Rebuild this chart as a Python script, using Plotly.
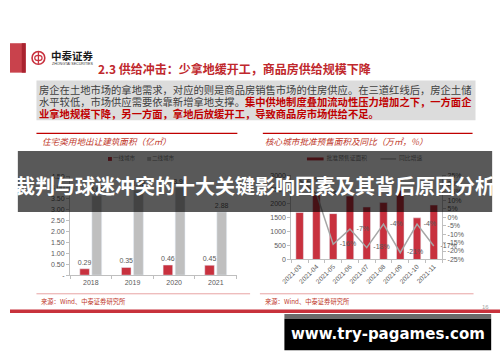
import plotly.graph_objects as go

W, H = 500, 362
def px(x): return x / W
def py(y): return 1 - y / H

# ---------------- data ----------------
years = ["2018", "2019", "2020", "2021"]
tier1_area = [0.29, 0.35, 0.46, 0.45]
tier2_area = [3.61, 3.88, 3.99, 2.88]
left_tickvals = [0, 0.5, 1.0, 1.5, 2.0, 2.5, 3.0, 3.5, 4.0, 4.5]
left_ticktext = ["-", "0.50", "1.00", "1.50", "2.00", "2.50", "3.00", "3.50", "4.00", "4.50"]

months = ["2021-03", "2021-04", "2021-05", "2021-06", "2021-07",
          "2021-08", "2021-09", "2021-10", "2021-11"]
presale_area = [1670, 2290, 1630, 2255, 1865, 2025, 2450, 1480, 1935]
yoy = [0.22, 0.14, -0.16, -0.07, -0.18, -0.04, -0.21, -0.04, -0.17]
area_tickvals = [0, 500, 1000, 1500, 2000, 2500, 3000]
yoy_tickvals = [-0.25, -0.20, -0.15, -0.10, -0.05, 0, 0.05, 0.10, 0.15, 0.20, 0.25]
yoy_ticktext = ["-25%", "-20%", "-15%", "-10%", "-5%", "0%", "5%", "10%", "15%", "20%", "25%"]

legend_left = ["一线城市", "二线城市"]
legend_right = ["批准预售证面积", "同比增速"]

RED = "#c8313e"
GRAYBAR = "#bfbfbf"
TXT = "#595959"
CJK = "Noto Sans CJK SC"
LAT = "Liberation Sans"

fig = go.Figure()

# left chart bars
fig.add_trace(go.Bar(
    x=years, y=tier1_area, xaxis="x", yaxis="y", marker_color=RED,
    width=0.23, offset=-0.265,
    text=[f"{v:.2f}" for v in tier1_area], textposition="outside",
    textfont=dict(size=7, color=TXT, family=LAT), constraintext="none",
    textangle=0, cliponaxis=False))
fig.add_trace(go.Bar(
    x=years, y=tier2_area, xaxis="x", yaxis="y", marker_color=GRAYBAR,
    width=0.235, offset=0.025,
    text=[f"{v:.2f}" for v in tier2_area], textposition="outside",
    textfont=dict(size=7, color=TXT, family=LAT), constraintext="none",
    textangle=0, cliponaxis=False))

# right chart
fig.add_trace(go.Bar(
    x=months, y=presale_area, xaxis="x2", yaxis="y2", marker_color=RED,
    width=0.45, offset=-0.225))
fig.add_trace(go.Scatter(
    x=months, y=yoy, xaxis="x2", yaxis="y3", mode="lines",
    line=dict(color="#a6a6a6", width=1.5)))
fig.add_trace(go.Scatter(
    x=months, y=yoy, xaxis="x2", yaxis="y3", mode="markers+text",
    marker=dict(size=9, color="rgba(0,0,0,0)"),
    text=[f"{round(v*100)}%" for v in yoy], textposition="middle right",
    textfont=dict(size=7, color=TXT, family=LAT), cliponaxis=False))

# legend texts on a page overlay axis (so the banner covers them)
fig.add_trace(go.Scatter(
    x=[105, 145], y=[158, 158], xaxis="x3", yaxis="y4", mode="text",
    text=legend_left, textposition="middle right",
    textfont=dict(size=5.5, color="#7f7f7f", family=CJK), cliponaxis=False))
fig.add_trace(go.Scatter(
    x=[323, 397], y=[158, 158], xaxis="x3", yaxis="y4", mode="text",
    text=legend_right, textposition="middle right",
    textfont=dict(size=5.8, color="#7f7f7f", family=CJK), cliponaxis=False))

axis_common = dict(showgrid=False, zeroline=False, showline=True,
                   linecolor="#bfbfbf", linewidth=1, ticks="outside",
                   ticklen=3, tickcolor="#bfbfbf",
                   tickfont=dict(size=7, color=TXT, family=LAT), fixedrange=True)

fig.update_layout(
    width=W, height=362, margin=dict(l=0, r=0, t=0, b=0),
    paper_bgcolor="white", plot_bgcolor="rgba(0,0,0,0)",
    showlegend=False, barmode="overlay",
    font=dict(family=CJK),
    xaxis=dict(domain=[px(61.25), px(231.25)], anchor="y", type="category",
               range=[-0.5, 3.5], tickson="boundaries", **axis_common),
    yaxis=dict(domain=[py(276.5), py(175.7)], anchor="x", range=[0, 4.5],
               tickvals=left_tickvals, ticktext=left_ticktext, **axis_common),
    xaxis2=dict(domain=[px(287), px(441)], anchor="y2", type="category",
                range=[-0.5, 8.5], tickson="boundaries", tickangle=-45,
                **{**axis_common, "tickfont": dict(size=6.5, color=TXT, family=LAT)}),
    yaxis2=dict(domain=[py(260.5), py(174.5)], anchor="x2", range=[0, 3000],
                tickvals=area_tickvals, **axis_common),
    yaxis3=dict(overlaying="y2", side="right", anchor="x2", range=[-0.25, 0.25],
                tickvals=yoy_tickvals, ticktext=yoy_ticktext, **axis_common),
    xaxis3=dict(domain=[0, 1], anchor="y4", range=[0, W], visible=False, fixedrange=True),
    yaxis4=dict(domain=[0, 1], anchor="x3", range=[H, 0], visible=False, fixedrange=True),
)

def rect(x0, y0, x1, y1, color, layer="above", line=None):
    d = dict(type="rect", xref="paper", yref="paper",
             x0=px(x0), x1=px(x1), y0=py(y1), y1=py(y0),
             fillcolor=color, layer=layer, line=dict(width=0))
    if line:
        d["line"] = line
    return d

def hline(x0, x1, y, color, width, layer="above"):
    return dict(type="line", xref="paper", yref="paper",
                x0=px(x0), x1=px(x1), y0=py(y), y1=py(y),
                line=dict(color=color, width=width), layer=layer)

shapes = [
    rect(0, 40, 16, 70, "#c9424c"),
    rect(12, 40, 16, 70, "#a9232f"),
    dict(type="circle", xref="paper", yref="paper", x0=px(22.5), x1=px(35.5),
         y0=py(61.5), y1=py(48.5), line=dict(color=RED, width=1.6)),
    dict(type="circle", xref="paper", yref="paper", x0=px(25.3), x1=px(32.7),
         y0=py(57.6), y1=py(52.4), line=dict(color=RED, width=1.3)),
    dict(type="line", xref="paper", yref="paper", x0=px(29), x1=px(29),
         y0=py(61), y1=py(49), line=dict(color=RED, width=1.3)),
    rect(27, 78, 475, 118.5, "#dcdcdc", layer="below"),
    hline(27, 232, 132, "#c00000", 1.3),
    hline(258, 472, 132, "#c00000", 1.3),
    hline(27, 245, 295.5, "#e8a3a3", 1),
    hline(255, 473, 295.5, "#e8a3a3", 1),
    rect(0, 311.5, 500, 315, "#c8323c"),
    # legend keys (under banner)
    rect(100, 156, 104, 160, RED),
    rect(140, 156, 144, 160, GRAYBAR),
    rect(303, 156.5, 320, 159.5, RED),
    hline(378, 394, 158, "#a6a6a6", 1.2),
    # banner
    rect(8, 150, 492, 212, "rgba(0,0,0,0.65)"),
    # url box
    rect(280, 316, 491, 321, "#6b6b6b"),
    rect(280, 321, 491, 353, "#000000"),
]

def ann(x, y, text, size, color, family=CJK, xanchor="left"):
    return dict(x=px(x), y=py(y), xref="paper", yref="paper", text=text,
                showarrow=False, xanchor=xanchor, yanchor="middle",
                font=dict(size=size, color=color, family=family),
                borderpad=0)

BODY_RED = "#c00000"
annotations = [
    ann(41, 52.5, "<b>中泰证券</b>", 10.5, "#1a1a1a"),
    ann(42, 61, "ZHONGTAI SECURITIES", 3.6, "#333333", family=LAT),
    ann(89, 66, "<b>2.3 供给冲击：少拿地缓开工，商品房供给规模下降</b>", 12, "#c0282d"),
    ann(29, 86.7, "房企在土地市场的拿地需求，对应的则是商品房销售市场的住房供应。在三道红线后，房企土储",
        10.3, "#404040"),
    ann(29, 99.2, "水平较低，市场供应需要依靠新增拿地支撑。"
        f"<span style='color:{BODY_RED}'><b>集中供地制度叠加流动性压力增加之下，一方面企</b></span>",
        10.3, "#404040"),
    ann(29, 111.7, "<b>业拿地规模下降，另一方面，拿地后放缓开工，导致商品房市场供给不足。</b>",
        10.3, BODY_RED),
    ann(32, 140, "<i>住宅类用地出让建筑面积（亿㎡）</i>", 8.6, "#c0392b"),
    ann(259, 140, "<i>核心城市批准预售面积及同比（万㎡，%）</i>", 8.6, "#c0392b"),
    ann(31, 303, "来源：Wind、中泰证券研究所", 6.3, "#c0392b"),
    ann(259, 303, "来源：Wind、中泰证券研究所", 6.3, "#c0392b"),
    ann(481, 308.5, "16", 6, "#a6a6a6", family=LAT),
    ann(250, 185, "<b>裁判与球迷冲突的十大关键影响因素及其背后原因分析</b>", 20, "#ffffff",
        xanchor="center"),
    ann(385.5, 337, "<b>www.try-pagames.com</b>", 15, "#ffffff", family="DejaVu Sans",
        xanchor="center"),
]

fig.update_layout(shapes=shapes, annotations=annotations)
fig.write_html("out.html")
